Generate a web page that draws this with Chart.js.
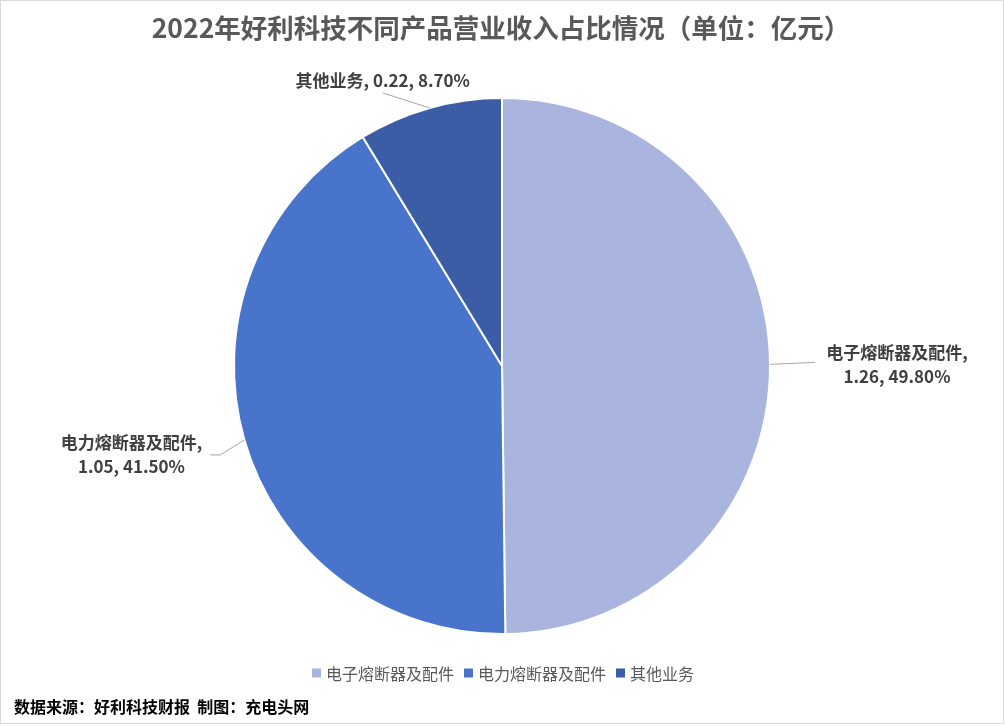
<!DOCTYPE html>
<html>
<head>
<meta charset="utf-8">
<script src="https://cdn.jsdelivr.net/npm/chart.js@4"></script>
<style>
  html, body { margin: 0; padding: 0; background: #fff; }
  #wrap { width: 1005px; height: 726px; position: relative; }
</style>
</head>
<body>
<div id="wrap"><canvas id="pieChart" width="1005" height="726"></canvas></div>
<script>
// Data
const categories = ['电子熔断器及配件', '电力熔断器及配件', '其他业务'];
const revenue = [1.26, 1.05, 0.22];          // 亿元
const shareLabels = ['49.80%', '41.50%', '8.70%'];
const sliceColors = ['#A9B5DF', '#4874CB', '#3A5DA6'];

const titleText = '2022年好利科技不同产品营业收入占比情况（单位：亿元）';
const sourceText = '数据来源：好利科技财报  制图：充电头网';

const FONT = '"Noto Sans CJK SC", "Noto Sans", sans-serif';

// where each data label sits, relative to the slice's outer edge point
const labelLayout = [
    { dx: 127, dy: 0, lines: 2, leader: [[45, -2]] },
    { dx: -113, dy: 15, lines: 2, leader: [[-24, 15], [-34, 15]] },
    { dx: -47, dy: -27, lines: 1, leader: [[-47, -15]] }
];

const frame = {
    id: 'frame',
    beforeDraw(chart) {
        const ctx = chart.ctx;
        ctx.save();
        ctx.fillStyle = '#fff';
        ctx.fillRect(0, 0, chart.width, chart.height);
        ctx.strokeStyle = '#D9D9D9';
        ctx.lineWidth = 1;
        ctx.strokeRect(0.5, 0.5, chart.width - 2, chart.height - 3);
        ctx.restore();
    },
    afterDraw(chart) {
        const ctx = chart.ctx;
        ctx.save();
        // title
        ctx.fillStyle = '#595959';
        ctx.font = 'bold 26.5px ' + FONT;
        ctx.textAlign = 'center';
        ctx.textBaseline = 'middle';
        ctx.fillText(titleText, 501, 28);

        // legend
        ctx.font = '16px ' + FONT;
        const box = 9, gap = 5, itemGap = 10;
        const widths = categories.map(c => ctx.measureText(c).width);
        const total = widths.reduce((a, w) => a + box + gap + w, 0) + itemGap * (categories.length - 1);
        let x = 503 - total / 2;
        const y = 673;
        categories.forEach((c, i) => {
            ctx.fillStyle = sliceColors[i];
            ctx.fillRect(x, y - box / 2, box, box);
            x += box + gap;
            ctx.fillStyle = '#595959';
            ctx.textAlign = 'left';
            ctx.fillText(c, x, y + 1);
            x += widths[i] + itemGap;
        });

        // source note
        ctx.fillStyle = '#000';
        ctx.font = 'bold 16px ' + FONT;
        ctx.textAlign = 'left';
        ctx.fillText(sourceText, 14, 707);
        ctx.restore();
    }
};

const sliceLabels = {
    id: 'sliceLabels',
    afterDatasetsDraw(chart) {
        const ctx = chart.ctx;
        const arcs = chart.getDatasetMeta(0).data;
        ctx.save();
        arcs.forEach((arc, i) => {
            const mid = (arc.startAngle + arc.endAngle) / 2;
            const ex = arc.x + Math.cos(mid) * arc.outerRadius;
            const ey = arc.y + Math.sin(mid) * arc.outerRadius;
            const lay = labelLayout[i];

            ctx.strokeStyle = '#A6A6A6';
            ctx.lineWidth = 1;
            ctx.beginPath();
            ctx.moveTo(ex, ey);
            lay.leader.forEach(p => ctx.lineTo(ex + p[0], ey + p[1]));
            ctx.stroke();

            ctx.fillStyle = '#404040';
            ctx.font = 'bold 17px ' + FONT;
            ctx.textAlign = 'center';
            ctx.textBaseline = 'middle';
            const tx = ex + lay.dx, ty = ey + lay.dy;
            const valuePart = revenue[i].toFixed(2) + ', ' + shareLabels[i];
            if (lay.lines === 1) {
                ctx.fillText(categories[i] + ', ' + valuePart, tx, ty);
            } else {
                ctx.fillText(categories[i] + ',', tx, ty - 12);
                ctx.fillText(valuePart, tx, ty + 12);
            }
        });
        ctx.restore();
    }
};

new Chart(document.getElementById('pieChart').getContext('2d'), {
    type: 'pie',
    data: {
        labels: categories,
        datasets: [{
            data: revenue,
            backgroundColor: sliceColors,
            borderColor: '#fff',
            borderWidth: 2
        }]
    },
    options: {
        responsive: false,
        animation: false,
        layout: { padding: { top: 97, bottom: 91, left: 233, right: 234 } },
        plugins: {
            legend: { display: false },
            tooltip: { enabled: false }
        }
    },
    plugins: [frame, sliceLabels]
});
</script>
</body>
</html>
